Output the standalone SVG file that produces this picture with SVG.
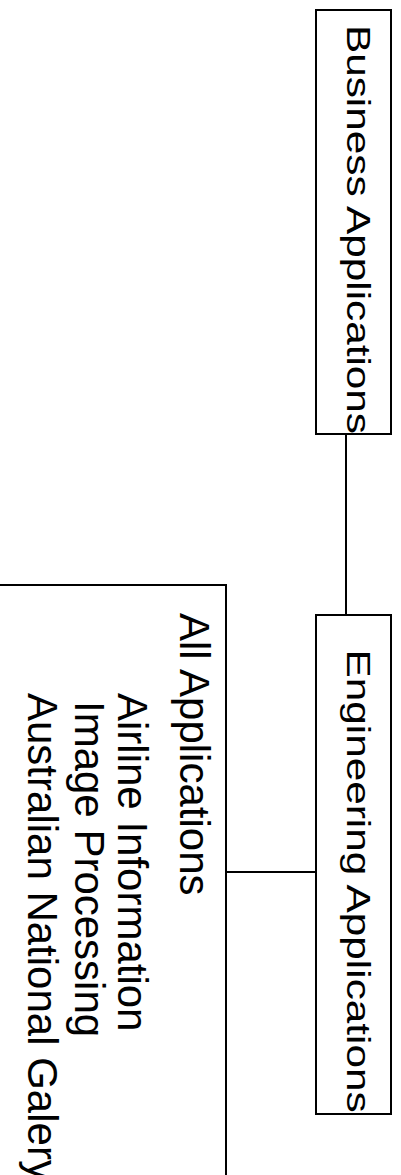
<svg xmlns="http://www.w3.org/2000/svg" width="401" height="1175" viewBox="0 0 401 1175">
<style>
.box{fill:#fff;stroke:#000;stroke-width:2}
.edge{stroke:#000;stroke-width:2;fill:none}
text{font-family:"Liberation Sans",Arial,sans-serif;font-size:42px;fill:#000}
.stretch{font-size:42.3px}
</style>
<rect width="401" height="1175" fill="#fff"/>
<g id="connectors">
<line class="edge" x1="346" y1="434" x2="346" y2="615"/>
<line class="edge" x1="226" y1="872" x2="316" y2="872"/>
</g>
<g id="all-applications">
<rect class="box" x="-10" y="585" width="236" height="700"/>
<text transform="translate(180,613) rotate(90)">All Applications</text>
<text transform="translate(118,693) rotate(90)">Airline Information</text>
<text transform="translate(75,701) rotate(90)">Image Processing</text>
<text transform="translate(28,693) rotate(90)">Australian National Galery</text>
</g>
<g id="business-applications">
<rect class="box" x="316" y="10" width="75" height="424"/>
<text class="stretch" transform="translate(347,25) rotate(90) scale(1,0.78)">Business Applications</text>
</g>
<g id="engineering-applications">
<rect class="box" x="316" y="615" width="75" height="499"/>
<text class="stretch" transform="translate(347,649.5) rotate(90) scale(1,0.78)">Engineering Applications</text>
</g>
</svg>
